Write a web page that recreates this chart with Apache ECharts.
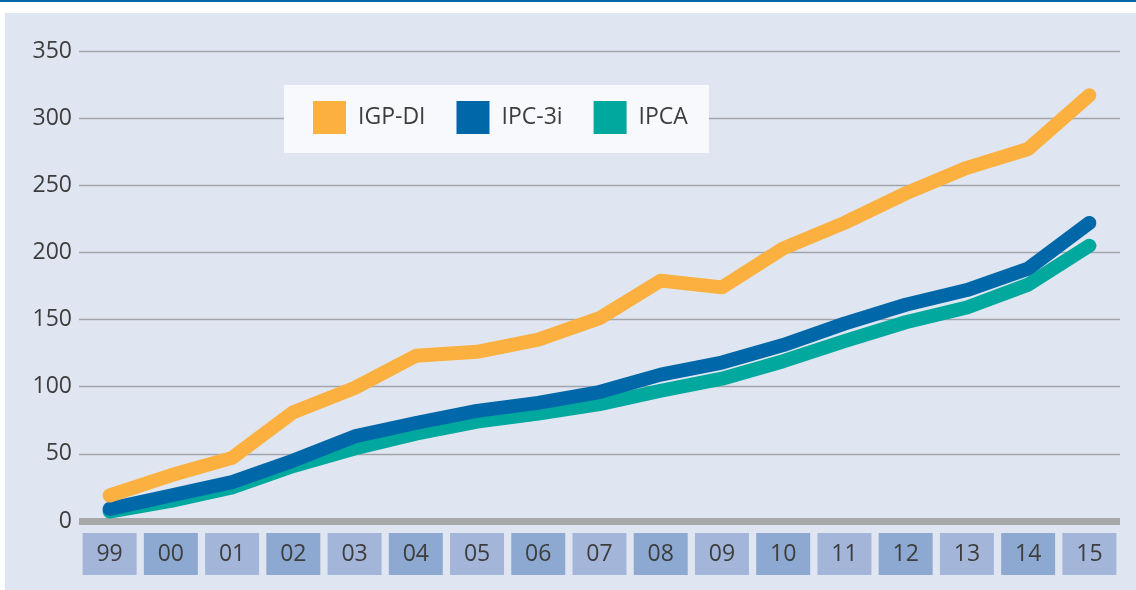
<!DOCTYPE html>
<html>
<head>
<meta charset="utf-8">
<script src="https://cdn.jsdelivr.net/npm/echarts@6/dist/echarts.min.js"></script>
<style>
html,body{margin:0;padding:0;background:#fff;}
#chart{width:1136px;height:590px;}
</style>
</head>
<body>
<div id="chart"></div>
<script>
const years = ['99','00','01','02','03','04','05','06','07','08','09','10','11','12','13','14','15'];
const yTicks = [0, 50, 100, 150, 200, 250, 300, 350];
const igpdi = [19, 34, 47, 81, 99, 123, 126, 135, 151, 179, 174, 203, 222, 244, 263, 277, 317];
const ipc3i = [9, 19, 29, 45, 63, 73, 82, 88, 96, 109, 118, 131, 147, 161, 172, 188, 222];
const ipca  = [7, 15, 25, 41, 54, 65, 74, 80, 87, 97, 106, 119, 134, 148, 159, 176, 205];

const FONT = '"Open Sans", "Noto Sans", sans-serif';
const TXT = '#3d3d3d';

const chart = echarts.init(document.getElementById('chart'), null, {renderer: 'canvas'});

function lineSeries(name, data, color, z) {
  return {
    name: name, type: 'line', data: data, z: z,
    symbol: 'none', smooth: false,
    lineStyle: {width: 14, color: color, cap: 'round', join: 'round'},
    itemStyle: {color: color},
    emphasis: {disabled: true}
  };
}

chart.setOption({
  backgroundColor: '#e0e6f1',
  animation: false,
  graphic: [
    {type: 'rect', shape: {x: 0, y: 0, width: 1136, height: 13}, style: {fill: '#ffffff'}, silent: true},
    {type: 'rect', shape: {x: 0, y: 0, width: 5, height: 590}, style: {fill: '#ffffff'}, silent: true},
    {type: 'rect', shape: {x: 0, y: 0, width: 1136, height: 2}, style: {fill: '#0066a6'}, silent: true}
  ],
  grid: {left: 79, right: 16, top: 51, bottom: 69, containLabel: false},
  legend: {
    left: 284, top: 85,
    orient: 'horizontal',
    icon: 'rect',
    itemWidth: 33, itemHeight: 33,
    itemGap: 31,
    backgroundColor: '#f8f9fc',
    padding: [16, 21, 19, 29],
    textStyle: {fontFamily: FONT, fontSize: 23, color: TXT, padding: [0, 0, 0, 7]},
    data: ['IGP-DI', 'IPC-3i', 'IPCA']
  },
  xAxis: {
    type: 'category',
    data: years,
    boundaryGap: true,
    axisLine: {show: true, lineStyle: {color: '#a7a8aa', width: 7, cap: 'butt'}},
    axisTick: {show: false},
    splitLine: {show: false},
    axisLabel: {
      interval: 0,
      margin: 12,
      formatter: function (v, i) { return (i % 2 ? '{b|' : '{a|') + v + '}'; },
      rich: {
        a: {backgroundColor: '#a3b6da', width: 54, height: 42, lineHeight: 42, align: 'center',
            fontFamily: FONT, fontSize: 23, color: TXT},
        b: {backgroundColor: '#8da9d1', width: 54, height: 42, lineHeight: 42, align: 'center',
            fontFamily: FONT, fontSize: 23, color: TXT}
      }
    }
  },
  yAxis: {
    type: 'value',
    min: yTicks[0], max: yTicks[yTicks.length - 1], interval: 50,
    axisLine: {show: false},
    axisTick: {show: false},
    splitLine: {show: true, lineStyle: {color: '#a2a5ab', width: 1.3}},
    axisLabel: {margin: 7, fontFamily: FONT, fontSize: 23, color: TXT}
  },
  series: [
    lineSeries('IGP-DI', igpdi, '#fbb040', 5),
    lineSeries('IPC-3i', ipc3i, '#0068a9', 4),
    lineSeries('IPCA', ipca, '#00a89d', 3)
  ]
});
</script>
</body>
</html>
